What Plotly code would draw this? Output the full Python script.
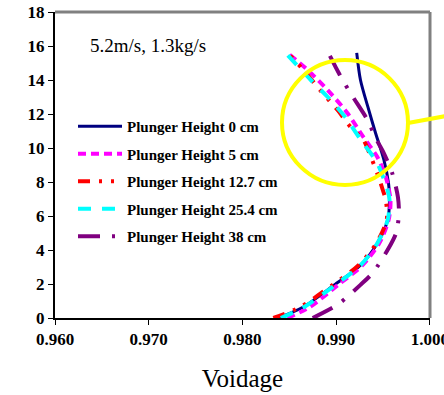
import plotly.graph_objects as go

# ---- data (height in m vs voidage) ----
h0_y = [0, 0.65, 1.94, 3.1, 4.4, 5.76, 6.94, 7.9, 9.3, 10.9, 12.4, 14.0, 15.6]
h0_x = [0.9838, 0.9865, 0.9898, 0.9926, 0.9944, 0.9955, 0.9957, 0.9956, 0.9951, 0.9942, 0.9934, 0.9926, 0.9922]

h5_y = [0, 0.65, 1.94, 3.1, 4.4, 5.76, 6.94, 8.3, 9.47, 10.65, 12.06, 13.4, 14.6, 15.6]
h5_x = [0.9848, 0.9872, 0.9902, 0.9928, 0.9946, 0.9956, 0.9958, 0.9953, 0.9944, 0.9929, 0.9912, 0.9891, 0.98695, 0.9848]

h127_y = [0, 0.65, 1.94, 3.1, 4.4, 5.76, 6.94, 7.5, 8.5, 9.9, 10.5, 11.2, 12.2, 13.4, 14.6, 15.6]
h127_x = [0.9833, 0.9862, 0.9896, 0.9924, 0.9943, 0.9954, 0.9953, 0.9950, 0.9944, 0.9934, 0.9929, 0.9916, 0.9902, 0.9883, 0.9865, 0.9848]

h254_y = [0, 0.65, 1.94, 3.1, 4.4, 5.76, 6.94, 7.5, 9.1, 10.5, 11.8, 13.0, 14.0, 15.6]
h254_x = [0.9841, 0.9866, 0.9899, 0.9926, 0.9944, 0.9955, 0.9957, 0.9955, 0.9944, 0.9926, 0.9910, 0.9891, 0.9873, 0.9846]

h38_y = [0, 0.8, 1.95, 2.65, 4.1, 5.0, 6.1, 7.1, 8.5, 9.8, 10.6, 11.6, 13.0, 13.9, 14.76, 15.9]
h38_x = [0.9875, 0.9902, 0.9926, 0.9939, 0.9956, 0.9964, 0.9967, 0.9966, 0.9960, 0.9950, 0.9942, 0.9934, 0.9918, 0.9908, 0.98995, 0.9889]

names = ["Plunger Height 0 cm", "Plunger Height 5 cm", "Plunger Height 12.7 cm",
         "Plunger Height 25.4 cm", "Plunger Height 38 cm"]
colors = ["#000080", "#ff00ff", "#ff0000", "#00ffff", "#800080"]
dashes = ["solid", "8px,5px", "12px,9px,3px,9px,3px,9px", "13px,11px", "22px,12px,3px,12px"]
widths = [3, 4, 4, 4, 4]

xs = [h0_x, h5_x, h127_x, h254_x, h38_x]
ys = [h0_y, h5_y, h127_y, h254_y, h38_y]

x_ticks = [0.960, 0.970, 0.980, 0.990, 1.000]
x_ticklabels = ["0.960", "0.970", "0.980", "0.990", "1.000"]
y_ticks = [0, 2, 4, 6, 8, 10, 12, 14, 16, 18]

serif = "Liberation Serif, Times New Roman, serif"

fig = go.Figure()
for i in range(5):
    fig.add_trace(go.Scatter(
        x=xs[i], y=ys[i], mode="lines", name=names[i],
        legendgroup=str(i),
        line=dict(color=colors[i], width=widths[i], dash=dashes[i], shape="spline", smoothing=0.8),
    ))

# plot area in window: x 55..430, y 12..318
fig.update_layout(
    width=444, height=395,
    margin=dict(l=55, r=14, t=12, b=77, autoexpand=False),
    paper_bgcolor="white", plot_bgcolor="white",
    showlegend=True,
    legend=dict(
        x=0.048, y=0.68, xanchor="left", yanchor="top",
        bgcolor="rgba(0,0,0,0)",
        font=dict(family=serif, size=15, color="black", weight="bold"),
        tracegroupgap=5, itemwidth=44,
    ),
    xaxis=dict(
        range=[0.960, 1.00002], tickvals=x_ticks, ticktext=x_ticklabels,
        automargin=False, ticklabeloverflow="allow",
        showgrid=False, zeroline=False,
        showline=True, linecolor="black", linewidth=2,
        ticks="outside", ticklen=5, tickcolor="black", tickwidth=1,
        tickfont=dict(family=serif, size=17, color="black", weight="bold"),
        title=dict(text="Voidage", font=dict(family=serif, size=25, color="black"), standoff=21),
    ),
    yaxis=dict(
        range=[0, 18], tickvals=y_ticks,
        automargin=False, ticklabeloverflow="allow",
        showgrid=False, zeroline=False,
        showline=True, linecolor="black", linewidth=2,
        ticks="outside", ticklen=5, tickcolor="black", tickwidth=1,
        tickfont=dict(family=serif, size=17, color="black", weight="bold"),
    ),
    annotations=[
        dict(text="5.2m/s, 1.3kg/s", xref="paper", yref="paper", x=0.088, y=0.89,
             xanchor="left", yanchor="middle", showarrow=False,
             font=dict(family=serif, size=19, color="black")),
    ],
    shapes=[
        dict(type="line", xref="paper", yref="paper", x0=0, x1=1.0, y0=1, y1=1,
             line=dict(color="#808080", width=3)),
        dict(type="line", xref="paper", yref="paper", x0=1.0, x1=1.0, y0=0, y1=1,
             line=dict(color="#808080", width=3)),
        dict(type="circle", xref="paper", yref="paper",
             x0=(282 - 55) / 375, x1=(408 - 55) / 375,
             y0=(318 - 185) / 306, y1=(318 - 60) / 306,
             line=dict(color="#ffff00", width=4)),
        dict(type="line", xref="paper", yref="paper",
             x0=(408 - 55) / 375, x1=(446 - 55) / 375,
             y0=(318 - 123) / 306, y1=(318 - 116) / 306,
             line=dict(color="#ffff00", width=4)),
    ],
)

fig.write_html("out.html", config={"displayModeBar": False},
               post_script="document.body.style.margin='0';")
